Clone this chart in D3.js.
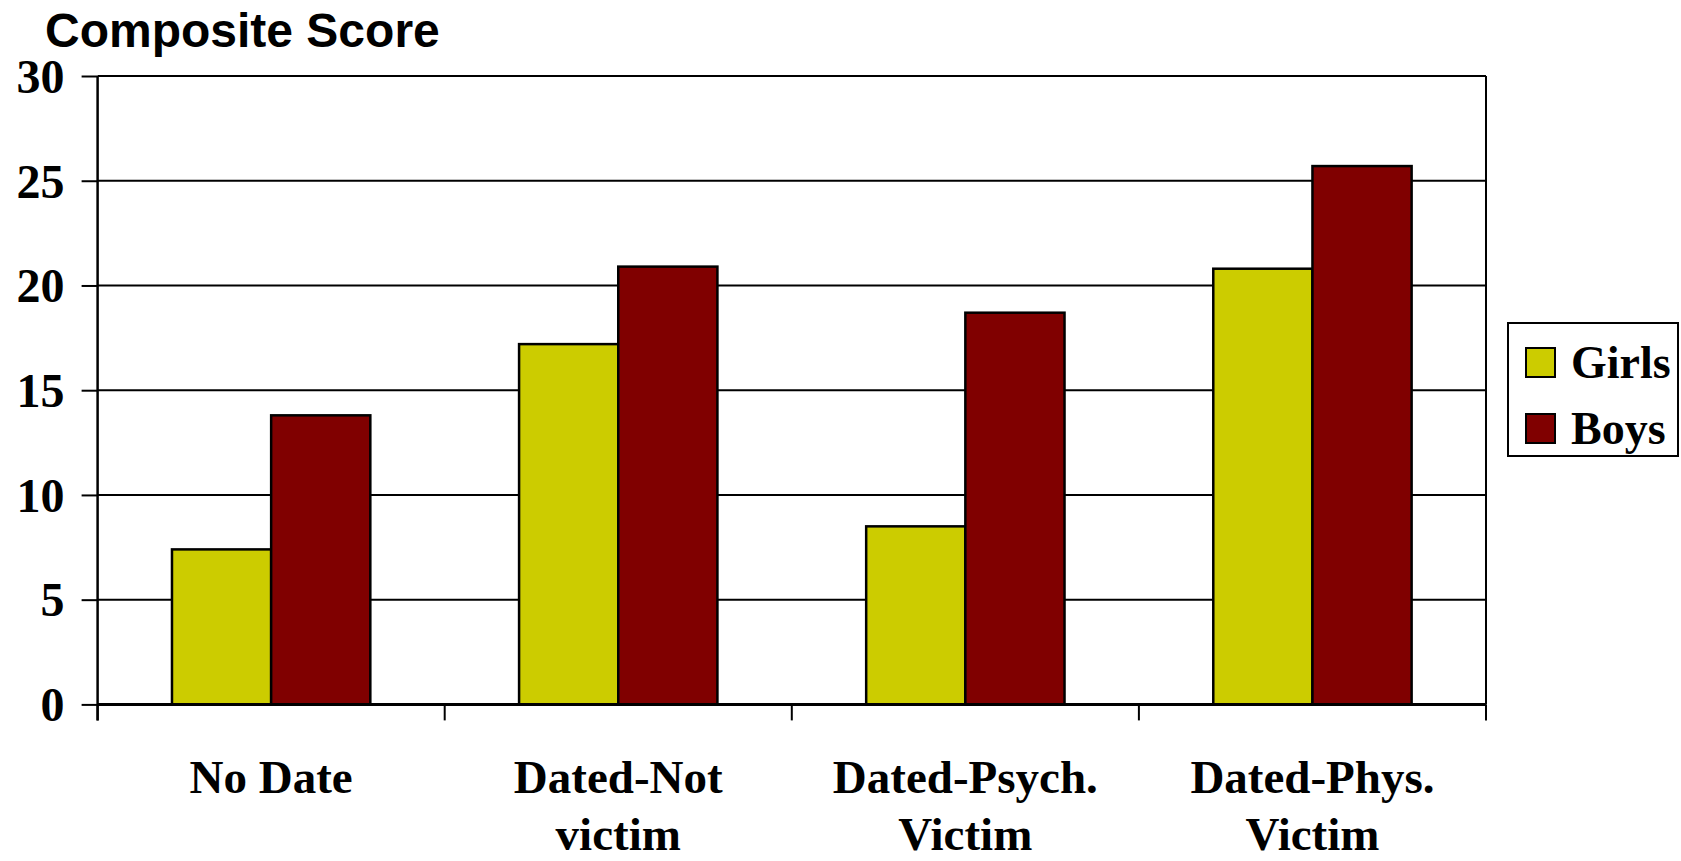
<!DOCTYPE html>
<html>
<head>
<meta charset="utf-8">
<script src="https://cdn.jsdelivr.net/npm/d3@7"></script>
<style>
  html, body { margin: 0; padding: 0; background: #fff; }
  svg { display: block; }
</style>
</head>
<body>
<svg id="chart" width="1681" height="861"></svg>
<script>
// ---- Data ----
const categories = ["No Date", "Dated-Not victim", "Dated-Psych. Victim", "Dated-Phys. Victim"];
const categoryLines = [["No Date"], ["Dated-Not", "victim"], ["Dated-Psych.", "Victim"], ["Dated-Phys.", "Victim"]];
const seriesNames = ["Girls", "Boys"];
const girls = [7.4, 17.2, 8.5, 20.8];
const boys = [13.8, 20.9, 18.7, 25.7];
const yTicks = [0, 5, 10, 15, 20, 25, 30];
const titleText = "Composite Score";
const colors = ["#CCCC00", "#800000"];

// ---- Layout ----
const svg = d3.select("#chart");
const L = 97.6, R = 1486, T = 76, B = 704.4;
const serif = "'Liberation Serif', 'Times New Roman', serif";
const sans = "'Liberation Sans', Arial, sans-serif";

const x0 = d3.scaleBand().domain(categories).range([L, R]).paddingInner(0).paddingOuter(0);
const x1 = d3.scaleBand().domain(seriesNames).range([0, x0.bandwidth()]).paddingInner(0).paddingOuter(0.75);
const y = d3.scaleLinear().domain([0, 30]).range([B, T]);

const seriesValues = [girls, boys];

// gridlines
svg.append("g").selectAll("line").data(yTicks.filter(d => d > 0)).join("line")
  .attr("x1", L).attr("x2", R)
  .attr("y1", d => y(d)).attr("y2", d => y(d))
  .attr("stroke", "#000").attr("stroke-width", 2);

// right border of plot area
svg.append("line").attr("x1", R).attr("x2", R).attr("y1", T).attr("y2", B)
  .attr("stroke", "#000").attr("stroke-width", 2);

// bars
const groups = svg.append("g").selectAll("g").data(categories).join("g")
  .attr("transform", d => `translate(${x0(d)},0)`);
groups.selectAll("rect")
  .data((c, i) => seriesNames.map((s, j) => ({ s, v: seriesValues[j][i], j })))
  .join("rect")
  .attr("x", d => x1(d.s))
  .attr("y", d => y(d.v))
  .attr("width", x1.bandwidth())
  .attr("height", d => y(0) - y(d.v))
  .attr("fill", d => colors[d.j])
  .attr("stroke", "#000").attr("stroke-width", 2.5);

// y axis
const yAxis = svg.append("g").attr("transform", `translate(${L},0)`)
  .call(d3.axisLeft(y).tickValues(yTicks).tickSize(16).tickPadding(17).tickFormat(d3.format("d")));
yAxis.select(".domain").attr("stroke", "#000").attr("stroke-width", 2.5).attr("d", `M0,${T}V${B + 16}`);
yAxis.selectAll(".tick line").attr("stroke", "#000").attr("stroke-width", 2);
yAxis.selectAll(".tick text")
  .attr("font-family", serif).attr("font-weight", "bold").attr("font-size", 48)
  .attr("fill", "#000").attr("dy", "0.34em");

// x axis baseline and ticks
svg.append("line").attr("x1", L).attr("x2", R).attr("y1", B).attr("y2", B)
  .attr("stroke", "#000").attr("stroke-width", 3);
const bounds = categories.map(c => x0(c)).concat([x0.range()[1]]);
svg.append("g").selectAll("line").data(bounds).join("line")
  .attr("x1", d => d).attr("x2", d => d)
  .attr("y1", B).attr("y2", B + 16)
  .attr("stroke", "#000").attr("stroke-width", 2);

// category labels
const lab = svg.append("g").selectAll("text").data(categories).join("text")
  .attr("text-anchor", "middle")
  .attr("font-family", serif).attr("font-weight", "bold").attr("font-size", 47)
  .attr("fill", "#000");
lab.selectAll("tspan").data((c, i) => categoryLines[i].map((t, k) => ({ t, k, c }))).join("tspan")
  .attr("x", d => x0(d.c) + x0.bandwidth() / 2)
  .attr("y", d => 793 + d.k * 57)
  .text(d => d.t);

// title
svg.append("text").attr("x", 45).attr("y", 47)
  .attr("font-family", sans).attr("font-weight", "bold").attr("font-size", 48)
  .attr("fill", "#000").text(titleText);

// legend
const lg = svg.append("g");
lg.append("rect").attr("x", 1508).attr("y", 323).attr("width", 170).attr("height", 133)
  .attr("fill", "#fff").attr("stroke", "#000").attr("stroke-width", 2);
seriesNames.forEach((s, i) => {
  const yy = 348 + i * 66;
  lg.append("rect").attr("x", 1526).attr("y", yy).attr("width", 29).attr("height", 29)
    .attr("fill", colors[i]).attr("stroke", "#000").attr("stroke-width", 2);
  lg.append("text").attr("x", 1571).attr("y", yy + 30)
    .attr("font-family", serif).attr("font-weight", "bold").attr("font-size", 46)
    .attr("fill", "#000").text(s);
});
</script>
</body>
</html>
